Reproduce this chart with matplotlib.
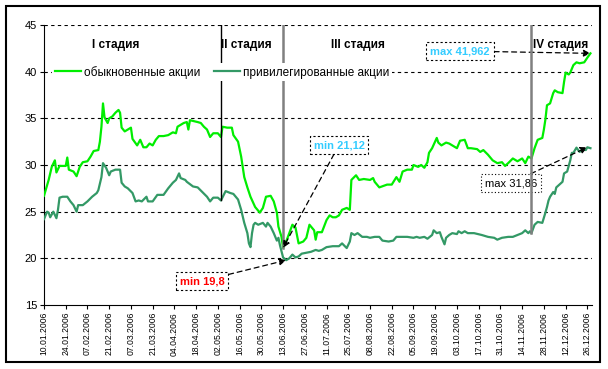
import numpy as np
import pandas as pd
import matplotlib
matplotlib.use("Agg")
import matplotlib.pyplot as plt
import matplotlib.dates as mdates
from matplotlib.patches import Rectangle

plt.rcParams['font.family'] = ['Liberation Sans', 'DejaVu Sans']

# обыкновенные акции
common_dates = ["01-10", "01-13", "01-15", "01-17", "01-18", "01-20", "01-24", "01-25", "01-26", "01-29",
                "01-31", "02-02", "02-04", "02-07", "02-09", "02-11", "02-14", "02-15", "02-16", "02-17",
                "02-18", "02-20", "02-21", "02-23", "02-25", "02-27", "02-28", "03-01", "03-03", "03-05",
                "03-07", "03-08", "03-11", "03-13", "03-15", "03-17", "03-19", "03-21", "03-23", "03-25",
                "03-28", "03-31", "04-03", "04-05", "04-06", "04-08", "04-10", "04-12", "04-13", "04-14",
                "04-19", "04-21", "04-23", "04-25", "04-27", "04-29", "05-02", "05-04", "05-05", "05-08",
                "05-11", "05-12", "05-15", "05-17", "05-19", "05-21", "05-23", "05-26", "05-29", "05-31",
                "06-02", "06-05", "06-07", "06-09", "06-10", "06-12", "06-13", "06-15", "06-17", "06-19",
                "06-21", "06-23", "06-26", "06-28", "06-30", "07-03", "07-04", "07-05", "07-08", "07-11",
                "07-13", "07-15", "07-17", "07-19", "07-21", "07-24", "07-26", "07-27", "07-30", "08-01",
                "08-04", "08-08", "08-10", "08-11", "08-14", "08-19", "08-22", "08-25", "08-27", "08-29",
                "09-01", "09-04", "09-05", "09-08", "09-10", "09-12", "09-14", "09-15", "09-17", "09-20",
                "09-21", "09-23", "09-26", "09-28", "09-30", "10-03", "10-05", "10-08", "10-10", "10-12",
                "10-16", "10-18", "10-20", "10-23", "10-26", "10-29", "11-01", "11-03", "11-05", "11-08",
                "11-11", "11-14", "11-16", "11-18", "11-20", "11-22", "11-24", "11-27", "11-28", "11-29",
                "11-30", "12-02", "12-04", "12-05", "12-07", "12-10", "12-11", "12-12", "12-14", "12-15",
                "12-17", "12-19", "12-21", "12-24", "12-26", "12-28"]
common_vals = [26.7, 28.4, 29.8, 30.5, 29.2, 29.9, 29.9, 30.8, 29.5, 29.3,
               28.8, 29.8, 30.3, 30.4, 30.9, 31.5, 31.6, 32.5, 34.1, 36.6,
               35.1, 34.5, 35.0, 35.2, 35.6, 35.9, 35.6, 34.0, 33.6, 33.8,
               34.0, 32.8, 32.1, 32.7, 31.9, 31.9, 32.3, 32.1, 32.7, 33.1,
               33.1, 33.2, 33.5, 33.4, 34.1, 34.3, 34.5, 34.6, 33.8, 34.8,
               34.6, 34.5, 34.1, 33.8, 33.0, 33.4, 33.4, 33.0, 34.1, 34.0,
               34.0, 33.2, 32.5, 30.9, 28.7, 27.6, 26.6, 25.5, 24.9, 25.4,
               26.6, 26.7, 26.1, 24.9, 23.4, 22.3, 21.12, 21.8, 22.7, 23.6,
               23.3, 21.6, 21.8, 22.2, 23.6, 23.0, 22.0, 22.8, 22.8, 24.1,
               24.6, 24.4, 24.4, 24.6, 25.2, 25.4, 25.2, 28.4, 28.9, 28.4,
               28.5, 28.4, 28.6, 28.2, 27.6, 27.9, 27.9, 28.7, 28.2, 29.3,
               29.5, 29.5, 30.0, 29.8, 30.0, 29.7, 30.3, 31.3, 31.8, 32.9,
               32.4, 32.1, 32.4, 32.3, 32.1, 31.8, 32.6, 32.7, 31.8, 31.8,
               31.7, 31.4, 31.6, 31.1, 30.5, 30.2, 30.3, 29.9, 30.2, 30.7,
               30.4, 30.7, 30.2, 30.9, 30.7, 31.8, 32.7, 32.9, 33.8, 34.9,
               36.4, 36.6, 37.7, 38.0, 37.8, 37.7, 38.9, 39.9, 39.7, 39.9,
               40.7, 41.0, 40.9, 41.0, 41.5, 41.962]

# привилегированные акции
pref_dates = ["01-10", "01-12", "01-13", "01-14", "01-16", "01-18", "01-19", "01-20", "01-22", "01-25",
              "01-27", "01-29", "01-31", "02-01", "02-04", "02-07", "02-10", "02-13", "02-14", "02-16",
              "02-17", "02-19", "02-21", "02-22", "02-25", "02-28", "03-01", "03-03", "03-05", "03-08",
              "03-10", "03-12", "03-14", "03-17", "03-18", "03-21", "03-24", "03-28", "03-31", "04-03",
              "04-05", "04-07", "04-08", "04-11", "04-12", "04-16", "04-19", "04-22", "04-25", "04-27",
              "04-29", "05-02", "05-04", "05-07", "05-10", "05-12", "05-15", "05-17", "05-19", "05-21",
              "05-22", "05-23", "05-24", "05-25", "05-26", "05-28", "05-31", "06-02", "06-03", "06-05",
              "06-07", "06-09", "06-10", "06-11", "06-13", "06-15", "06-17", "06-19", "06-21", "06-23",
              "06-25", "06-28", "07-01", "07-04", "07-06", "07-08", "07-11", "07-15", "07-19", "07-21",
              "07-24", "07-26", "07-27", "07-29", "07-31", "08-03", "08-06", "08-08", "08-11", "08-14",
              "08-16", "08-20", "08-23", "08-25", "08-29", "09-01", "09-05", "09-07", "09-09", "09-12",
              "09-14", "09-17", "09-18", "09-20", "09-22", "09-23", "09-25", "09-26", "09-28", "09-30",
              "10-03", "10-04", "10-06", "10-08", "10-10", "10-14", "10-19", "10-23", "10-27", "10-29",
              "11-01", "11-05", "11-08", "11-11", "11-14", "11-16", "11-18", "11-19", "11-20", "11-22",
              "11-24", "11-27", "11-29", "11-30", "12-01", "12-02", "12-04", "12-05", "12-06", "12-10",
              "12-11", "12-13", "12-15", "12-16", "12-17", "12-19", "12-21", "12-23", "12-25", "12-26",
              "12-28"]
pref_vals = [24.2, 25.0, 24.9, 24.4, 25.0, 24.3, 25.2, 26.5, 26.6, 26.6,
             26.1, 25.7, 25.0, 25.7, 25.7, 26.1, 26.6, 27.0, 27.3, 28.7,
             30.2, 29.7, 28.9, 29.3, 29.5, 29.5, 28.1, 27.7, 27.5, 27.0,
             26.1, 26.2, 26.1, 26.6, 26.1, 26.1, 26.8, 26.8, 27.5, 28.1,
             28.4, 29.1, 28.6, 28.4, 28.2, 27.7, 27.6, 27.1, 26.6, 26.1,
             26.5, 26.5, 26.2, 27.2, 27.0, 26.9, 26.3, 25.2, 23.8, 22.7,
             21.6, 21.2, 22.7, 23.6, 23.8, 23.6, 23.8, 23.4, 23.8, 23.4,
             22.7, 21.9, 22.2, 21.4, 20.1, 19.8, 20.0, 20.4, 20.1, 20.2,
             20.5, 20.6, 20.7, 20.9, 20.8, 20.9, 21.2, 21.3, 21.3, 21.6,
             21.1, 21.8, 22.7, 22.5, 22.7, 22.3, 22.3, 22.2, 22.3, 22.3,
             21.9, 21.8, 21.9, 22.3, 22.3, 22.3, 22.2, 22.3, 22.2, 22.3,
             22.1, 22.5, 23.0, 22.7, 22.8, 22.3, 21.5, 22.2, 22.5, 22.7,
             22.6, 22.9, 22.7, 22.9, 22.7, 22.7, 22.5, 22.3, 22.2, 22.0,
             22.2, 22.3, 22.3, 22.5, 22.7, 23.0, 22.7, 22.9, 22.7, 23.6,
             23.9, 23.8, 24.9, 25.5, 26.2, 26.6, 27.1, 26.9, 27.6, 28.2,
             29.1, 29.3, 30.5, 31.3, 31.3, 31.86, 31.4, 31.7, 31.6, 31.9,
             31.8]

stage_labels = ["I стадия", "II стадия", "III стадия", "IV стадия"]
stage_bounds = ["05-04", "06-13", "11-20"]
tick_dates = pd.date_range("2006-01-10", "2006-12-26", freq="14D")

green = "#00EE00"
dark = "#339966"

cd = pd.to_datetime(["2006-" + d for d in common_dates])
pdt = pd.to_datetime(["2006-" + d for d in pref_dates])
cv = np.array(common_vals)
pv = np.array(pref_vals)

fig = plt.figure(figsize=(6.08, 3.69), dpi=100)
ax = fig.add_axes([44 / 608, 1 - 305 / 369, 548 / 608, 280 / 369])

ax.plot(cd, cv, color=green, lw=1.6, label="обыкновенные акции", zorder=3)
ax.plot(pdt, pv, color=dark, lw=1.6, label="привилегированные акции", zorder=3)

ax.set_ylim(15, 45)
ax.set_xlim(pd.Timestamp("2006-01-10"), pd.Timestamp("2006-12-29"))
ax.set_yticks(np.arange(15, 46, 5))
ax.set_xticks(tick_dates)
ax.xaxis.set_major_formatter(mdates.DateFormatter("%d.%m.%Y"))
ax.tick_params(axis="x", labelrotation=90, labelsize=6.2, length=3, pad=2)
ax.tick_params(axis="y", labelsize=8, length=3, pad=2)
for s in ["top", "right"]:
    ax.spines[s].set_visible(False)
for y in range(20, 46, 5):
    ax.axhline(y, color="black", lw=0.8, ls=(0, (3, 3)), zorder=1)

# stage boundaries
b1 = pd.Timestamp("2006-" + stage_bounds[0])
ax.plot([b1, b1], [45, pv[pdt == b1][0]], color="black", lw=1, zorder=4)
b2 = pd.Timestamp("2006-" + stage_bounds[1])
ax.plot([b2, b2], [45, cv[cd == b2][0]], color="#808080", lw=1.8, zorder=4)
b3 = pd.Timestamp("2006-" + stage_bounds[2])
ax.plot([b3, b3], [45, pv[pdt == b3][0]], color="#808080", lw=1.8, zorder=6)

for lab, xa in zip(stage_labels, [0.13, 0.369, 0.573, 0.942]):
    ax.text(xa, 0.929, lab, transform=ax.transAxes, ha="center", va="center",
            fontsize=8.5, fontweight="bold")

leg = ax.legend(loc="center left", bbox_to_anchor=(0.015, 0.832), ncol=2, fontsize=8.5,
                frameon=True, facecolor="white", edgecolor="none", framealpha=1,
                handlelength=2.2, handletextpad=0.25, columnspacing=1.2,
                borderpad=0.2, borderaxespad=0)
leg.set_zorder(5)

arrow = dict(arrowstyle="-|>", color="black", lw=0.9, ls=(0, (4, 3)), mutation_scale=10,
             shrinkA=0, shrinkB=0)

def box(ls):
    return dict(boxstyle="square,pad=0.35", fc="white", ec="black", lw=0.8, ls=ls)

i = np.argmax(cv)
ax.annotate("max 41,962", xy=(cd[i], cv[i]), xytext=(460, 318), textcoords="figure pixels",
            ha="center", va="center", fontsize=8, fontweight="bold", color="#33CCFF",
            bbox=box((0, (2, 2))), arrowprops=arrow, zorder=5)
i = np.argmin(cv)
ax.annotate("min 21,12", xy=(cd[i], cv[i]), xytext=(339, 224), textcoords="figure pixels",
            ha="center", va="center", fontsize=8, fontweight="bold", color="#33CCFF",
            bbox=box((0, (2, 2))), arrowprops=arrow, zorder=5)
i = np.argmin(pv)
ax.annotate("min 19,8", xy=(pdt[i], pv[i]), xytext=(202, 88), textcoords="figure pixels",
            ha="center", va="center", fontsize=8, fontweight="bold", color="#FF0000",
            bbox=box((0, (2, 2))), arrowprops=arrow, zorder=5)
i = np.argmax(pv)
ax.annotate("max 31,86", xy=(pdt[i], pv[i]), xytext=(511, 186), textcoords="figure pixels",
            ha="center", va="center", fontsize=8, color="black",
            bbox=box((0, (1, 2))), arrowprops=arrow, zorder=5)

fig.patches.append(Rectangle((6 / 608, 1 - 362 / 369), 594 / 608, 356 / 369,
                             transform=fig.transFigure, fill=False, ec="black", lw=1.5))

fig.savefig("out.png", dpi=100)
